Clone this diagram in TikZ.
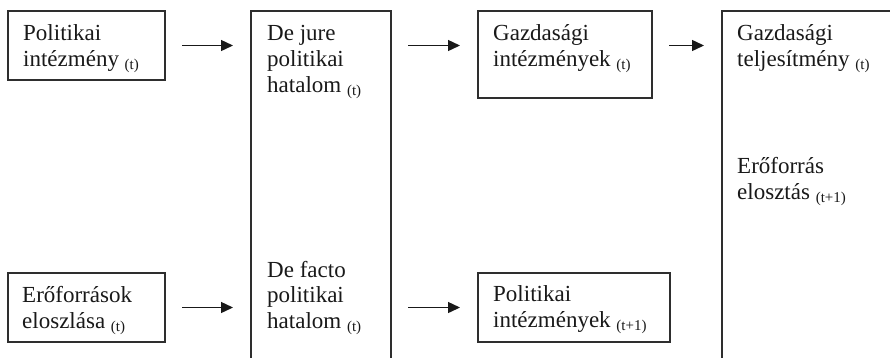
\documentclass[tikz,border=0pt]{standalone}
\usepackage{fontspec}
\setmainfont{Liberation Serif}
\usetikzlibrary{arrows.meta}
\definecolor{boxc}{HTML}{2E2E2E}
\newcommand\subtx[1]{\raisebox{-3pt}{\fontsize{15}{15}\selectfont #1}}
\tikzset{
  box/.style={draw=boxc, line width=1.5pt, rectangle, anchor=north west, inner sep=0pt, outer sep=0pt},
  lbl/.style={anchor=base west, inner sep=0pt, text=black!90, font=\fontsize{23}{26}\selectfont},
  arr/.style={-{Triangle[length=12pt,width=11pt]}, line width=1.4pt, black!90, shorten <=17pt, shorten >=18pt}
}
\begin{document}
\begin{tikzpicture}[x=1pt,y=-1pt]
\useasboundingbox (0,0) rectangle (890,357);
\fill[white] (0,0) rectangle (890,357);
\clip (0,0) rectangle (890,357);
% boxes
\node[box, minimum width=157pt, minimum height=69pt] (pi) at (8,11) {};
\node[box, minimum width=140pt, minimum height=420pt] (dj) at (251,11) {};
\node[box, minimum width=174pt, minimum height=87pt] (gi) at (478,11) {};
\node[box, minimum width=220pt, minimum height=420pt] (gt) at (722,11) {};
\node[box, minimum width=157pt, minimum height=69pt] (ef) at (8,273) {};
\node[box, minimum width=192pt, minimum height=69pt] (pin) at (478,273) {};
% texts
\node[lbl] (t1a) at (23,40) {Politikai};
\node[lbl] (t1b) at (23,66) {intézmény \subtx{(t)}};
\node[lbl] (t2a) at (267,40) {De jure};
\node[lbl] (t2b) at (267,66) {politikai};
\node[lbl] (t2c) at (267,92) {hatalom \subtx{(t)}};
\node[lbl] (t3a) at (493,40) {Gazdasági};
\node[lbl] (t3b) at (493,66) {intézmények \subtx{(t)}};
\node[lbl] (t4a) at (737,40) {Gazdasági};
\node[lbl] (t4b) at (737,66) {teljesítmény \subtx{(t)}};
\node[lbl] (t4c) at (737,173) {Erőforrás};
\node[lbl] (t4d) at (737,199) {elosztás \subtx{(t+1)}};
\node[lbl] (t5a) at (22,302) {Erőforrások};
\node[lbl] (t5b) at (22,328) {eloszlása \subtx{(t)}};
\node[lbl] (t6a) at (267,277) {De facto};
\node[lbl] (t6b) at (267,302) {politikai};
\node[lbl] (t6c) at (267,328) {hatalom \subtx{(t)}};
\node[lbl] (t7a) at (493,301) {Politikai};
\node[lbl] (t7b) at (493,327) {intézmények \subtx{(t+1)}};
% arrows
\draw[arr] (pi.east) -- (pi.east -| dj.west);
\draw[arr] (dj.east |- pi.east) -- (pi.east -| gi.west);
\draw[arr] (gi.east |- pi.east) -- (pi.east -| gt.west);
\draw[arr] (ef.east) -- (ef.east -| dj.west);
\draw[arr] (dj.east |- ef.east) -- (pin.west);
\end{tikzpicture}
\end{document}
